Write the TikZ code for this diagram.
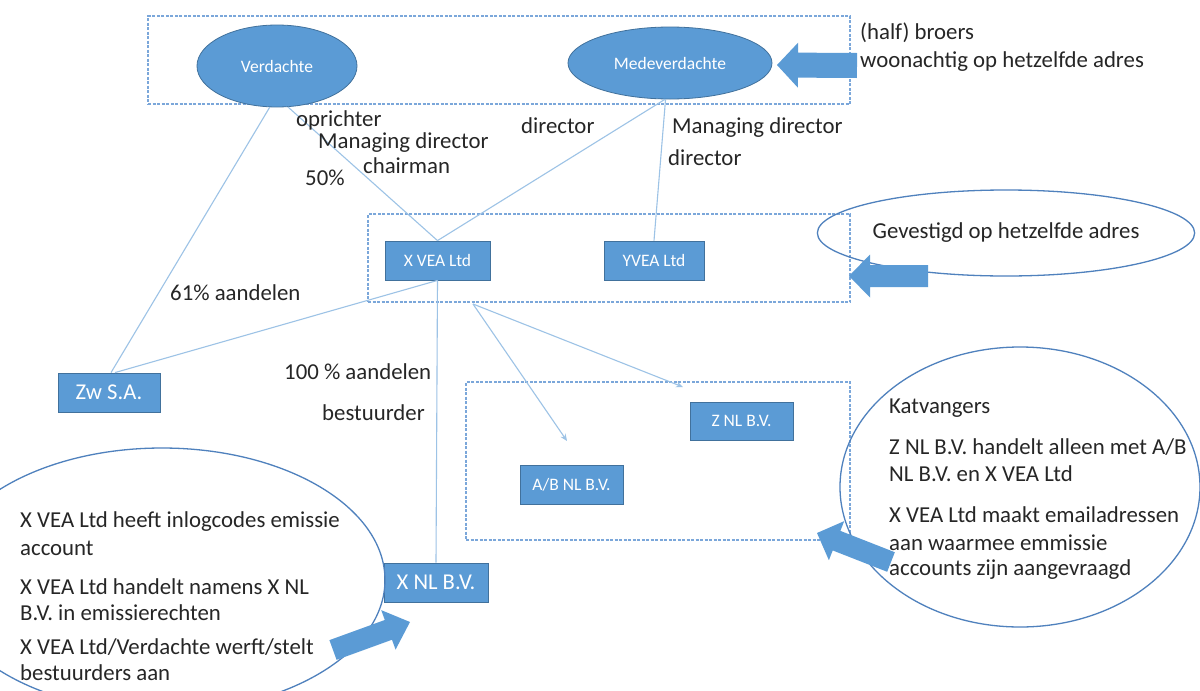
\documentclass[tikz,border=0pt]{standalone}
\usepackage{fontspec}
\setmainfont{Carlito}
\usetikzlibrary{shapes.geometric,arrows.meta,calc}
\definecolor{ofblue}{HTML}{5B9BD5}
\definecolor{ofedge}{HTML}{41719C}
\definecolor{linkc}{HTML}{9DC3E6}
\definecolor{dashc}{HTML}{7BA7DA}
\definecolor{ringc}{HTML}{4F81BD}
\definecolor{txtc}{HTML}{262626}
\newcommand\blkarrow[5]{%
  \coordinate (bat) at (#1);
  \coordinate (bap) at (#2);
  \coordinate (bah) at ($(bap)!#5!(bat)$);
  \fill[ofblue] ($(bat)!#3!90:(bap)$) -- ($(bah)!#3!90:(bap)$) -- ($(bah)!#4!90:(bap)$) -- (bap)
    -- ($(bah)!#4!-90:(bap)$) -- ($(bah)!#3!-90:(bap)$) -- ($(bat)!#3!-90:(bap)$) -- cycle;
}
\tikzset{
  lbl/.style={font=\fontsize{22.8}{27}\selectfont, text=txtc, inner sep=0pt},
  lblw/.style={lbl, anchor=west},
  boxsmall/.style={rectangle, fill=ofblue, draw=ofedge, line width=0.8pt, text=white, inner sep=0pt,
     font=\fontsize{17.5}{20}\selectfont},
  boxbig/.style={boxsmall, font=\fontsize{22.6}{26}\selectfont},
  blob/.style={ellipse, fill=ofblue, draw=ofedge, line width=0.8pt, text=white, inner sep=0pt,
     font=\fontsize{17.5}{20}\selectfont},
  grpbox/.style={rectangle, draw=dashc, line width=1.4pt, dash pattern=on 3pt off 1.5pt, inner sep=0pt},
  ring/.style={ellipse, draw=ringc, line width=1.3pt, inner sep=0pt},
  link/.style={draw=linkc, line width=1.1pt},
  linkarrow/.style={link, -{Stealth[length=7pt,width=6pt]}, shorten >=0pt}
}
\begin{document}
\begin{tikzpicture}[x=1pt,y=-1pt]
\useasboundingbox[fill=white] (0,0) rectangle (1200,691);

% group boxes
\node[grpbox, minimum width=702, minimum height=88] (grptop) at (499,60) {};
\node[grpbox, minimum width=482, minimum height=88] (grpmid) at (609,258) {};
\node[grpbox, minimum width=384, minimum height=158] (grplow) at (658,461) {};

% persons
\node[blob, minimum width=160, minimum height=82] (verd) at (277,66) {Verdachte};
\node[blob, minimum width=204, minimum height=72] (med) at (670,63) {Medeverdachte};

% companies
\node[boxsmall, minimum width=105, minimum height=39] (xvea) at (437.5,260.5) {X VEA Ltd};
\node[boxsmall, minimum width=100, minimum height=39] (yvea) at (654,260.5) {YVEA Ltd};
\node[boxbig, minimum width=102, minimum height=39] (zw) at (109,392.5) {Zw S.A.};
\node[boxsmall, minimum width=103, minimum height=38] (znl) at (741.5,421) {Z NL B.V.};
\node[boxsmall, minimum width=103, minimum height=39] (abnl) at (571.5,484.5) {A/B NL B.V.};
\node[boxbig, minimum width=104, minimum height=39] (xnl) at (436,582.5) {X NL B.V.};

% connectors
\draw[link] (verd.285) -- (xvea.north);
\draw[link] (med.262) -- (xvea.north);
\draw[link] (med.263) -- (yvea.north);
\draw[link] (verd.260) -- ($(zw.north)+(2,0)$);
\draw[link] (xvea.south) -- ($(zw.north)+(6,0)$);
\draw[link] (xvea.south) -- (xnl.north);
\coordinate (split) at (473,304);
\coordinate (abend) at (567,441);
\coordinate (zend) at (683,387);
\draw[linkarrow] (split) -- (abend);
\draw[linkarrow] (split) -- (zend);

% callout ellipses
\node[ring, minimum width=318, minimum height=86, lbl] (gev) at (1006,233) {Gevestigd op hetzelfde adres};
\node[ring, minimum width=446, minimum height=264] (leftring) at (162,580) {};
\node[ring, minimum width=360, minimum height=280] (rightring) at (1020,487) {};

% labels
\node[lblw] (lhalf) at (860,33) {(half) broers};
\node[lblw] (lwoon) at (860,62) {woonachtig op hetzelfde adres};
\node[lblw] (lopr) at (296,120) {oprichter};
\node[lblw] (lmd1) at (318,143) {Managing director};
\node[lblw] (lchair) at (363,166) {chairman};
\node[lblw] (l50) at (305,178) {50\%};
\node[lblw] (ldir1) at (521,126) {director};
\node[lblw] (lmd2) at (672,128) {Managing director};
\node[lblw] (ldir2) at (668,158) {director};
\node[lblw] (l61) at (170,293) {61\% aandelen};
\node[lblw] (l100) at (284,372) {100 \% aandelen};
\node[lblw] (lbest) at (322,413) {bestuurder};

% left callout text
\node[lblw] (t1) at (20,522) {X VEA Ltd heeft inlogcodes emissie};
\node[lblw] (t2) at (20,548) {account};
\node[lblw] (t3) at (20,587) {X VEA Ltd handelt namens X NL};
\node[lblw] (t4) at (20,613) {B.V. in emissierechten};
\node[lblw] (t5) at (20,647) {X VEA Ltd/Verdachte werft/stelt};
\node[lblw] (t6) at (20,673) {bestuurders aan};

% right callout text
\node[lblw] (r1) at (889,408) {Katvangers};
\node[lblw] (r2) at (889,447) {Z NL B.V. handelt alleen met A/B};
\node[lblw] (r3) at (889,474) {NL B.V. en X VEA Ltd};
\node[lblw] (r4) at (889,515) {X VEA Ltd maakt emailadressen};
\node[lblw] (r5) at (889,543) {aan waarmee emmissie};
\node[lblw] (r6) at (889,570) {accounts zijn aangevraagd};

% block arrows
\blkarrow{857,65.5}{777,65}{12.5pt}{22.5pt}{21pt}
\blkarrow{928,276}{849,276}{11pt}{21.5pt}{21pt}
\blkarrow{333,650}{410,622}{10.5pt}{21pt}{23pt}
\blkarrow{891,562}{817,533}{10.5pt}{21pt}{21pt}
\end{tikzpicture}
\end{document}
